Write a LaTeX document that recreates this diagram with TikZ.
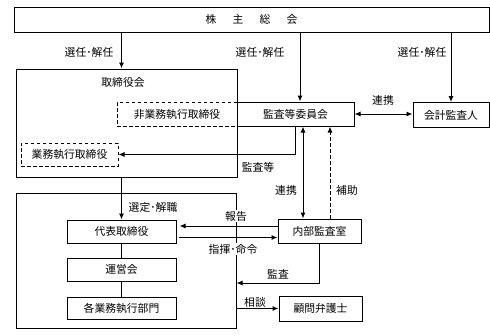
\documentclass[tikz,border=0pt]{standalone}
\usepackage{fontspec}
\setmainfont{Noto Sans CJK JP}
\usetikzlibrary{arrows.meta}

\tikzset{
  txt/.style={font=\fontsize{10.8}{12}\selectfont},
  box/.style={draw, line width=1pt, inner sep=0pt, txt},
  dbox/.style={box, dash pattern=on 3.5pt off 2.5pt},
  lbl/.style={inner sep=1pt, txt},
  arr/.style={line width=1pt, -{Latex[length=6pt,width=5pt]}},
  dblarr/.style={line width=1pt, {Latex[length=6pt,width=5pt]}-{Latex[length=6pt,width=5pt]}},
  plain/.style={line width=1pt}
}

\begin{document}
\begin{tikzpicture}[x=1pt, y=-1pt]
  \useasboundingbox (0,0) rectangle (490,335);

  % Boxes
  \node[box, minimum width=475, minimum height=25] (soukai) at (251.5,19.5) {株\hspace{1.5em}主\hspace{1.5em}総\hspace{1.5em}会};
  \node[box, minimum width=221, minimum height=108] (torikai) at (126.5,123) {};
  \node[lbl] (torititle) at (123,82) {取締役会};
  \node[dbox, minimum width=120, minimum height=24] (hi) at (177,114) {非業務執行取締役};
  \node[box, minimum width=117, minimum height=24] (kansa) at (295.5,114) {監査等委員会};
  \node[box, minimum width=76, minimum height=25] (kaikei) at (451,115) {会計監査人};
  \node[dbox, minimum width=97, minimum height=23] (gyomu) at (69.5,154.5) {業務執行取締役};
  \node[box, minimum width=220, minimum height=135] (keiei) at (126,260.5) {};
  \node[box, minimum width=109, minimum height=23] (daihyo) at (121.5,231.5) {代表取締役};
  \node[box, minimum width=109, minimum height=23] (unei) at (121.5,269.5) {運営会};
  \node[box, minimum width=109, minimum height=22] (bumon) at (121.5,308) {各業務執行部門};
  \node[box, minimum width=83, minimum height=24] (naibu) at (319.5,231) {内部監査室};
  \node[box, minimum width=83, minimum height=25] (bengo) at (320.5,308.5) {顧問弁護士};

  % Coordinates
  \coordinate (kin) at ([xshift=4.5]kansa.north);
  \coordinate (nl) at ([xshift=-16.5]naibu.north);
  \coordinate (nr) at ([xshift=10.5]naibu.north);

  % Connectors
  \draw[arr] (daihyo.north |- soukai.south) -- (daihyo.north |- torikai.north);
  \draw[arr] (kin |- soukai.south) -- (kin);
  \draw[arr] (kaikei.north |- soukai.south) -- (kaikei.north);
  \draw[dblarr] (kansa.east) -- (kansa.east -| kaikei.west);
  \draw[arr] (kansa.south) |- (gyomu.east);
  \draw[dblarr] (nl) -- (nl |- kansa.south);
  \draw[arr, dash pattern=on 3.5pt off 2.5pt] (nr) -- (nr |- kansa.south);
  \draw[arr] (daihyo.north |- torikai.south) -- (daihyo.north);
  \draw[arr, shorten >=3pt] ([yshift=5]naibu.west) -- ([yshift=5]naibu.west -| daihyo.east);
  \draw[arr, shorten <=2pt] ([yshift=-6]daihyo.east) -- ([yshift=-6]daihyo.east -| naibu.west);
  \draw[arr] (naibu.south) |- ([yshift=-22.5]keiei.east);
  \draw[arr] (bengo.west -| keiei.east) -- (bengo.west);
  \draw[plain] (daihyo.south) -- (unei.north);
  \draw[plain] (unei.south) -- (bumon.north);

  % Labels
  \node[lbl] (sen1) at (89,52) {選任･解任};
  \node[lbl] (sen2) at (260,52) {選任･解任};
  \node[lbl] (sen3) at (422,52) {選任･解任};
  \node[lbl] (renkei1) at (383,100) {連携};
  \node[lbl] (kansatou) at (258,167) {監査等};
  \node[lbl] (renkei2) at (286,190) {連携};
  \node[lbl] (hojo) at (347,190) {補助};
  \node[lbl] (sentei) at (153,207) {選定･解職};
  \node[lbl, fill=white] (houkoku) at (236,216) {報告};
  \node[lbl, fill=white] (shiki) at (233,249) {指揮･命令};
  \node[lbl] (kansa2) at (278,274) {監査};
  \node[lbl] (soudan) at (255,302) {相談};
\end{tikzpicture}
\end{document}
